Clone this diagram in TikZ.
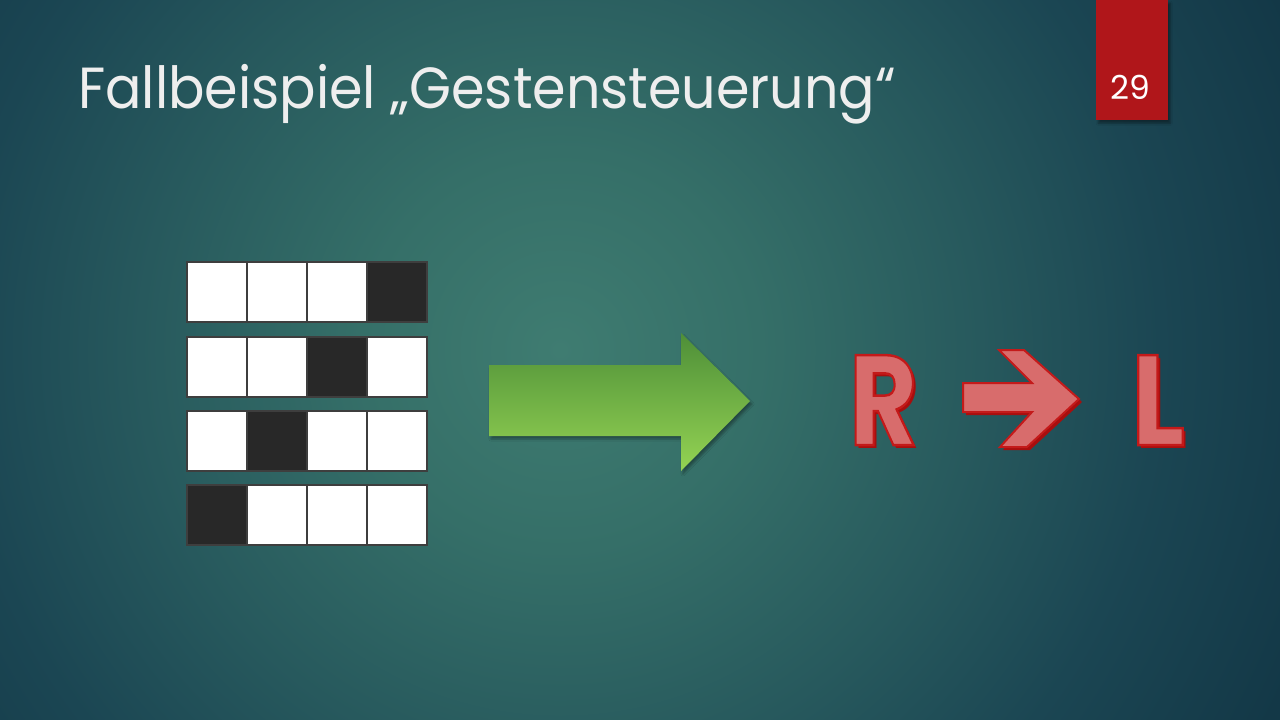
\documentclass[tikz,border=0pt]{standalone}
\usepackage{fontspec}
\setmainfont{Poppins}
\usetikzlibrary{shadows.blur}

\definecolor{bgin}{HTML}{3F7C71}
\definecolor{bgmid}{HTML}{356F68}
\definecolor{bgdeep}{HTML}{27595D}
\definecolor{bgdark}{HTML}{1B4653}
\definecolor{bgout}{HTML}{133847}
\definecolor{titlegray}{HTML}{EEEEEE}
\definecolor{tabred}{HTML}{B0161A}
\definecolor{gridline}{HTML}{3E3E3E}
\definecolor{celldark}{HTML}{282828}
\definecolor{arrowtop}{HTML}{4E8F38}
\definecolor{arrowbot}{HTML}{94D353}
\definecolor{rlfill}{HTML}{D86C6C}
\definecolor{rledge}{HTML}{C41A1A}
\definecolor{rlshadow}{HTML}{A80E0E}

% the central 50bp square of the shading is mapped onto the path's box
\pgfdeclareradialshading{slidebg}{\pgfpoint{0bp}{0bp}}{%
  color(0bp)=(bgin); color(5bp)=(bgmid); color(10.5bp)=(bgdeep);
  color(15bp)=(bgdark); color(20bp)=(bgout); color(50bp)=(bgout)}

% glyphs filled and stroked (PDF text render mode 2)
\newcommand{\strokedglyph}[2]{%
  \special{pdf:literal direct 2 Tr #1 w 0.77 0.10 0.10 RG}#2%
  \special{pdf:literal direct 0 Tr}}

\begin{document}
\begin{tikzpicture}[x=1pt,y=1pt,
  cell/.style={draw=gridline, line width=2.5pt, minimum size=60pt,
    inner sep=0pt, outer sep=0pt},
  bigletter/.style={font=\bfseries\fontsize{128}{128}\selectfont, inner sep=0pt, anchor=base west},
]
% slide background
\useasboundingbox (0,0) rectangle (1280,-720);
\begin{scope}
  \clip (0,0) rectangle (1280,-720);
  \shade[shading=slidebg] (560,-350) circle (1000);
\end{scope}

% title
\node[anchor=base west, inner sep=0pt, text=titlegray,
      font=\fontsize{58}{58}\selectfont] (title) at (78,-108)
  {\scalebox{0.93}[1]{Fallbeispiel „Gestensteuerung“}};

% slide number tab
\node[fill=tabred, minimum width=72pt, minimum height=120pt, inner sep=0pt,
      anchor=north west,
      blur shadow={shadow xshift=2pt, shadow yshift=-3pt, shadow opacity=40}]
  (tab) at (1096,0) {};
\node[text=white, font=\fontsize{33}{33}\selectfont, inner sep=0pt]
  (num) at (1130,-87) {29};

% 4x4 gesture grid: one dark cell per row, moving right to left
\foreach \r/\y in {1/292,2/367,3/441,4/515}{
  \foreach \c/\x in {1/217,2/277,3/337,4/397}{
    \ifnum\numexpr\r+\c\relax=5 \def\cellfill{celldark}\else\def\cellfill{white}\fi
    \node[cell, fill=\cellfill] (c\r\c) at (\x,-\y) {};
  }
}

% green block arrow
\shade[top color=arrowtop, bottom color=arrowbot,
       blur shadow={shadow xshift=2pt, shadow yshift=-3pt, shadow opacity=35}]
  (489,-365) -- (681,-365) -- (681,-333) -- (750,-401) -- (681,-471)
  -- (681,-436) -- (489,-436) -- cycle;

% R -> L
\node[bigletter, text=rlshadow] (Rs) at (852,-448)
  {\scalebox{0.82}[1]{R}};
\node[bigletter, text=rlfill] (R) at (849,-445)
  {\scalebox{0.82}[1]{\strokedglyph{2.5}{R}}};

\fill[rlshadow] (966,-386) -- (1035,-386) -- (1002,-353) -- (1027,-353)
  -- (1082,-402) -- (1030,-450) -- (1003,-450) -- (1035,-415) -- (966,-415) -- cycle;
\filldraw[fill=rlfill, draw=rledge, line width=2pt, line join=miter]
  (963,-383) -- (1032,-383) -- (999,-350) -- (1024,-350)
  -- (1079,-399) -- (1027,-447) -- (1000,-447) -- (1032,-412) -- (963,-412) -- cycle;

\node[bigletter, text=rlshadow] (Ls) at (1134,-448)
  {\scalebox{0.88}[1]{L}};
\node[bigletter, text=rlfill] (L) at (1131,-445)
  {\scalebox{0.88}[1]{\strokedglyph{2.5}{L}}};
\end{tikzpicture}
\end{document}
